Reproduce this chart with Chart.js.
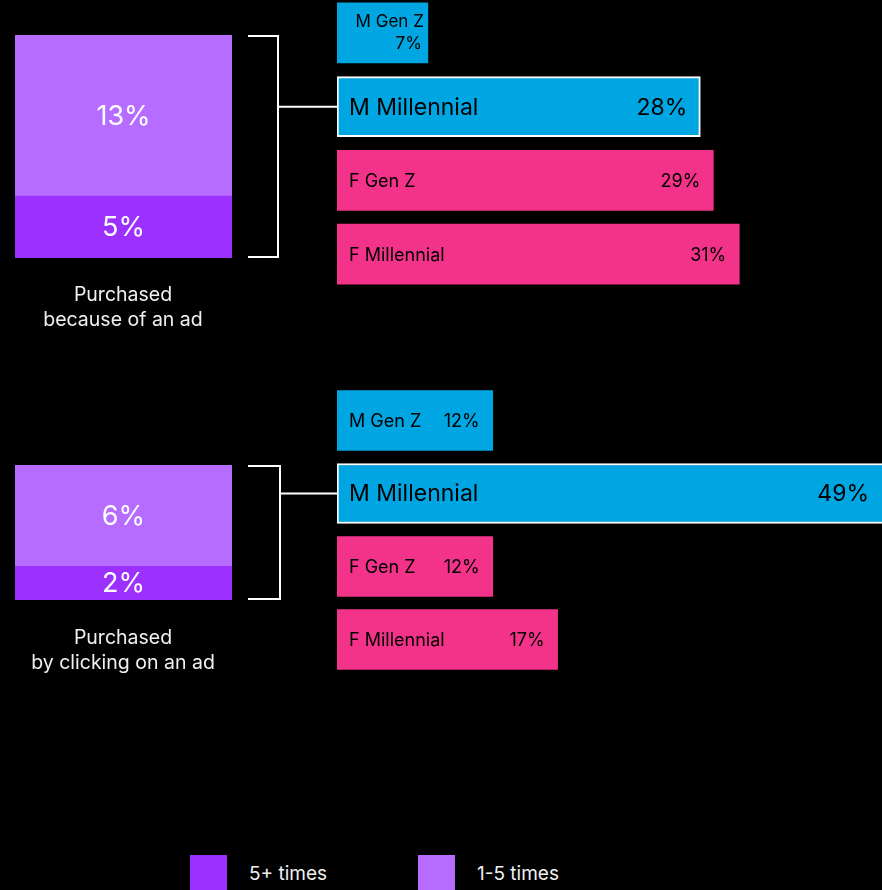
<!DOCTYPE html>
<html>
<head>
<meta charset="utf-8">
<script src="https://cdn.jsdelivr.net/npm/chart.js@4.4.1/dist/chart.umd.min.js"></script>
<style>
  html, body { margin: 0; padding: 0; background: #000; width: 882px; height: 890px; overflow: hidden;
               font-family: Inter, "Noto Sans", sans-serif; color: #f0f0f0; }
  .section { position: absolute; left: 0; width: 882px; height: 300px; }
  .section canvas { position: absolute; top: 0; }
  .caption { position: absolute; left: 0; width: 246px; text-align: center; font-size: 19.5px; line-height: 25px; }
  .legend-item { position: absolute; top: 855px; height: 37px; }
  .swatch { position: absolute; left: 0; top: 0; width: 37px; height: 37px; }
  .legend-text { position: absolute; left: 59px; top: 7px; font-size: 19px; white-space: nowrap; }
</style>
</head>
<body>
<div class="section" id="sec0" style="top:-4px">
  <canvas id="stack0" width="240" height="300" style="left:0"></canvas>
  <canvas id="segs0" width="642" height="300" style="left:240px"></canvas>
</div>
<div class="section" id="sec1" style="top:380px">
  <canvas id="stack1" width="240" height="300" style="left:0"></canvas>
  <canvas id="segs1" width="642" height="300" style="left:240px"></canvas>
</div>
<div class="caption" id="cap0" style="top:282px"></div>
<div class="caption" id="cap1" style="top:625px"></div>
<div id="legend"></div>

<script>
// left: how often people bought, per question
const questions = [['Purchased', 'because of an ad'], ['Purchased', 'by clicking on an ad']];
const frequency = ['5+ times', '1-5 times'];
const fivePlus = [5, 2];
const oneToFive = [13, 6];

// right: share by gender / generation
const segments = ['M Gen Z', 'M Millennial', 'F Gen Z', 'F Millennial'];
const becauseOfAd = [7, 28, 29, 31];
const clickingOnAd = [12, 49, 12, 17];

const purple = ['#9b30ff', '#b56cff'];
const segColors = ['#00a6e2', '#00a6e2', '#f33389', '#f33389'];
const highlight = 'M Millennial';
const pctMax = 42;
const FONT = 'Inter, "Noto Sans", sans-serif';

Chart.defaults.font.family = FONT;

// percentages in the middle of each stacked block
const stackLabels = {
  id: 'stackLabels',
  afterDatasetsDraw(chart) {
    const ctx = chart.ctx;
    ctx.save();
    ctx.fillStyle = '#fff';
    ctx.font = '27px ' + FONT;
    ctx.textAlign = 'center';
    ctx.textBaseline = 'middle';
    chart.data.datasets.forEach((ds, d) => {
      chart.getDatasetMeta(d).data.forEach((el, i) => {
        ctx.fillText(ds.data[i] + '%', el.x, (el.y + el.base) / 2 + 1);
      });
    });
    ctx.restore();
  }
};

// name on the left, value on the right, inside each bar
const segLabels = {
  id: 'segLabels',
  afterDatasetsDraw(chart) {
    const ctx = chart.ctx;
    const ds = chart.data.datasets[0];
    ctx.save();
    ctx.fillStyle = '#000';
    ctx.textBaseline = 'middle';
    chart.getDatasetMeta(0).data.forEach((el, i) => {
      const name = chart.data.labels[i];
      const val = ds.data[i] + '%';
      const size = name === highlight ? 23 : 18;
      const x0 = el.base;
      const x1 = Math.min(el.x, chart.chartArea.right);
      ctx.font = size + 'px ' + FONT;
      const need = ctx.measureText(name).width + ctx.measureText(val).width + 40;
      if (need > x1 - x0) {
        // too short: stack both lines at the right end
        ctx.font = '17px ' + FONT;
        ctx.textAlign = 'right';
        ctx.fillText(name, x1 - 4, el.y - 11);
        ctx.fillText(val, x1 - 6, el.y + 11);
      } else {
        ctx.textAlign = 'left';
        ctx.fillText(name, x0 + 12, el.y + 1);
        ctx.textAlign = 'right';
        ctx.fillText(val, x1 - 13, el.y + 1);
      }
    });
    ctx.restore();
  }
};

function makeStack(id, i, pad) {
  return new Chart(document.getElementById(id), {
    type: 'bar',
    data: {
      labels: [questions[i].join(' ')],
      datasets: [
        { label: frequency[0], data: [fivePlus[i]], backgroundColor: purple[0] },
        { label: frequency[1], data: [oneToFive[i]], backgroundColor: purple[1] }
      ]
    },
    options: {
      responsive: false,
      animation: false,
      layout: { padding: pad },
      datasets: { bar: { barPercentage: 1, categoryPercentage: 1 } },
      scales: {
        x: { stacked: true, display: false },
        y: { stacked: true, display: false, min: 0, max: fivePlus[i] + oneToFive[i] }
      },
      plugins: { legend: { display: false }, tooltip: { enabled: false } }
    },
    plugins: [stackLabels]
  });
}

function makeSegments(id, values, pad, stackChart, bracketW) {
  // bracket from the stacked bar to the highlighted segment
  const bracket = {
    id: 'bracket',
    afterDraw(chart) {
      const ctx = chart.ctx;
      const top = stackChart.chartArea.top + 1;
      const bottom = stackChart.chartArea.bottom - 1;
      const xa = stackChart.chartArea.right + 16 - 240;
      const xv = xa + bracketW;
      const hi = chart.getDatasetMeta(0).data[segments.indexOf(highlight)];
      ctx.save();
      ctx.strokeStyle = '#fff';
      ctx.lineWidth = 2;
      ctx.beginPath();
      ctx.moveTo(xa, top);
      ctx.lineTo(xv, top);
      ctx.lineTo(xv, bottom);
      ctx.lineTo(xa, bottom);
      ctx.moveTo(xv, hi.y);
      ctx.lineTo(chart.chartArea.left, hi.y);
      ctx.stroke();
      ctx.restore();
    }
  };
  return new Chart(document.getElementById(id), {
    type: 'bar',
    data: {
      labels: segments,
      datasets: [{
        data: values,
        backgroundColor: segColors,
        borderColor: segments.map(s => s === highlight ? '#fff' : 'rgba(0,0,0,0)'),
        borderWidth: segments.map(s => s === highlight ? 2 : 0),
        borderSkipped: false,
        barThickness: 60
      }]
    },
    options: {
      indexAxis: 'y',
      responsive: false,
      animation: false,
      layout: { padding: pad },
      scales: {
        x: { display: false, min: 0, max: pctMax },
        y: { display: false }
      },
      plugins: { legend: { display: false }, tooltip: { enabled: false } }
    },
    plugins: [segLabels, bracket]
  });
}

const stack0 = makeStack('stack0', 0, { left: 15, right: 8, top: 39, bottom: 38 });
const stack1 = makeStack('stack1', 1, { left: 15, right: 8, top: 85, bottom: 80 });
makeSegments('segs0', becauseOfAd, { left: 97, right: 0, top: 0, bottom: 5 }, stack0, 30);
makeSegments('segs1', clickingOnAd, { left: 97, right: 0, top: 4, bottom: 4 }, stack1, 32);

document.getElementById('cap0').innerHTML = questions[0].join('<br>');
document.getElementById('cap1').innerHTML = questions[1].join('<br>');

const legendX = [190, 418];
document.getElementById('legend').innerHTML = frequency.map((f, i) =>
  '<div class="legend-item" style="left:' + legendX[i] + 'px">' +
  '<div class="swatch" style="background:' + purple[i] + '"></div>' +
  '<div class="legend-text">' + f + '</div></div>').join('');
</script>
</body>
</html>
